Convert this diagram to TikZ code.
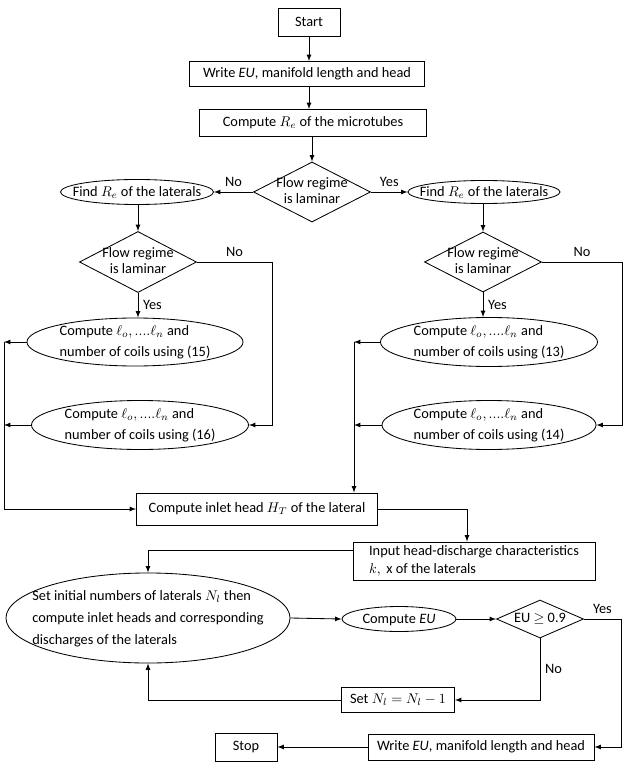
\documentclass[tikz,border=0pt]{standalone}
\usepackage{amsmath}
\usepackage{amssymb}
\usepackage{fontspec}
\setmainfont{Carlito}
\usetikzlibrary{shapes.geometric}

% text that does not widen its shape
\newcommand{\flowtext}[2][l]{\makebox[0pt]{\raisebox{-0.25em}[0pt][0pt]{\begin{tabular}{@{}#1@{}}#2\end{tabular}}}}

\begin{document}
\begin{tikzpicture}[x=0.025cm, y=-0.025cm, >=latex,
    every node/.style={font=\fontsize{10.2}{13}\selectfont},
    box/.style={rectangle, draw, line width=0.6pt, inner sep=2pt},
    oval/.style={ellipse, draw, line width=0.6pt, inner sep=0pt, font=\fontsize{10.2}{15}\selectfont},
    test/.style={diamond, draw, line width=0.6pt, inner sep=0pt, font=\fontsize{10.2}{12}\selectfont},
    arr/.style={->, line width=0.6pt}]
    \useasboundingbox (0,0) rectangle (632,774);

    % Define boxes
    \node[box, minimum width=1.55cm, minimum height=0.7cm] (start) at (309,22) {Start};
    \node[box, minimum width=5.875cm, minimum height=0.625cm] (write1) at (307,74) {Write \textit{EU}, manifold length and head};
    \node[box, minimum width=5.675cm, minimum height=0.675cm] (re) at (313,123) {Compute $R_e$ of the microtubes};

    % Define decisions and ovals
    \node[test, minimum width=2.925cm, minimum height=1.5cm] (flow) at (312,192) {\flowtext[c]{Flow regime\\is laminar}};
    \node[oval, minimum width=3.825cm, minimum height=0.625cm] (findL) at (137,192) {\flowtext{Find $R_e$ of the laterals}};
    \node[oval, minimum width=3.8cm, minimum height=0.575cm] (findR) at (484,192) {\flowtext{Find $R_e$ of the laterals}};
    \node[test, minimum width=2.925cm, minimum height=1.525cm] (flowL) at (138,262) {\flowtext[c]{Flow regime\\is laminar}};
    \node[test, minimum width=2.925cm, minimum height=1.5cm] (flowR) at (483,262) {\flowtext[c]{Flow regime\\is laminar}};
    \node[oval, minimum width=5.4cm, minimum height=1.2cm] (eqA) at (135,342) {\flowtext{Compute $\ell_o,....\ell_n$ and\\number of coils using (15)}};
    \node[oval, minimum width=5.425cm, minimum height=1.225cm] (eqB) at (140,425) {\flowtext{Compute $\ell_o,....\ell_n$ and\\number of coils using (16)}};
    \node[oval, minimum width=5.425cm, minimum height=1.225cm] (eqC) at (489,342) {\flowtext{Compute $\ell_o,....\ell_n$ and\\number of coils using (13)}};
    \node[oval, minimum width=5.35cm, minimum height=1.225cm] (eqD) at (489,425) {\flowtext{Compute $\ell_o,....\ell_n$ and\\number of coils using (14)}};

    % Lower part
    \node[box, minimum width=6.025cm, minimum height=0.8cm] (inlet) at (257,509) {Compute inlet head $H_T$ of the lateral};
    \node[box, minimum width=6.05cm, minimum height=0.95cm, align=left] (input) at (474,561) {Input head-discharge characteristics\\$k,\ \mathrm{x}$ of the laterals};
    \node[oval, minimum width=7.1cm, minimum height=2.25cm, font=\fontsize{10.2}{15.6}\selectfont] (big) at (148,618) {\flowtext{Set initial numbers of laterals $N_l$ then\\compute inlet heads and corresponding\\discharges of the laterals}};
    \node[oval, minimum width=2.85cm, minimum height=0.625cm] (ceu) at (399,619) {\flowtext{Compute \textit{EU}}};
    \node[test, minimum width=2.175cm, minimum height=0.95cm] (eu) at (540,619) {\flowtext[c]{EU $\geq$ 0.9}};
    \node[box, minimum width=2.825cm, minimum height=0.625cm] (set) at (398,700) {Set $N_l = N_l - 1$};
    \node[box, minimum width=5.65cm, minimum height=0.65cm] (wout) at (481,747) {Write \textit{EU}, manifold length and head};
    \node[box, minimum width=1.55cm, minimum height=0.7cm] (stop) at (246,747) {Stop};

    % Turning points
    \coordinate (turnL) at (272,262);
    \coordinate (turnR) at (622,262);
    \coordinate (busL) at (4,0);
    \coordinate (busR) at (354,0);
    \coordinate (turnI) at (467,0);
    \coordinate (turnY) at (621,0);

    % Draw edges with arrows
    \draw[arr] (start.south) -- (start.south |- write1.north);
    \draw[arr] (start.south |- write1.south) -- (start.south |- re.north);
    \draw[arr] (flow.north |- re.south) -- (flow.north);
    \draw[arr] (flow.west) -- node[above] {No} (findL.east);
    \draw[arr] (flow.east) -- node[above] {Yes} (findR.west);
    \draw[arr] (flowL.north |- findL.south) -- (flowL.north);
    \draw[arr] (flowR.north |- findR.south) -- (flowR.north);
    \draw[arr] (flowL.south) -- node[right] {Yes} (flowL.south |- eqA.north);
    \draw[arr] (flowR.south) -- node[right] {Yes} (flowR.south |- eqC.north);
    \draw[arr] (flowL.east) -- node[above] {No} (turnL) |- (eqB.east);
    \draw[arr] (flowR.east) -- node[above] {No} (turnR) |- (eqD.east);
    \draw[arr] (eqA.west) -- (eqA.west -| busL);
    \draw[arr] (eqB.west) -- (eqB.west -| busL);
    \draw[arr] (eqA.west -| busL) |- (inlet.west);
    \draw[arr] (eqC.west) -- (eqC.west -| busR);
    \draw[arr] (eqD.west) -- (eqD.west -| busR);
    \draw[arr] (eqC.west -| busR) -- (inlet.north -| busR);
    \draw[arr] (inlet.east) -| (turnI |- input.north);
    \draw[arr] (input.175) -| (big.north);
    \draw[arr] (big.east) -- (ceu.west);
    \draw[arr] (ceu.east) -- (eu.west);
    \draw[arr] (eu.east) -- node[above] {Yes} (eu.east -| turnY) |- (wout.east);
    \draw[arr] (eu.south) |- node[pos=0.25, right] {No} (set.east);
    \draw[arr] (set.west) -| (big.south);
    \draw[arr] (wout.west) -- (stop.east);
\end{tikzpicture}
\end{document}
